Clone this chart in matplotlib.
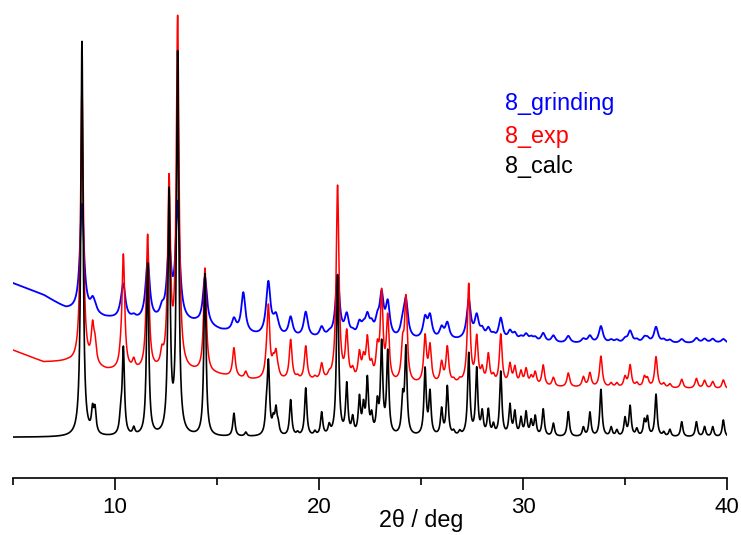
import numpy as np
import matplotlib.pyplot as plt
from matplotlib.ticker import MultipleLocator

plt.rcParams['font.family'] = ['Liberation Sans', 'DejaVu Sans']

# Peak positions (2theta, deg)
peak_pos = [8.38, 8.90, 9.02, 10.28, 10.41, 10.92, 11.60, 12.30, 12.65, 13.07,
            14.41, 15.83, 16.29, 16.41, 17.42, 17.52, 17.76, 17.89, 18.00, 18.61,
            18.95, 19.35, 19.80, 20.13, 20.50, 20.91, 21.36, 21.65, 21.98, 22.18,
            22.37, 22.58, 22.86, 23.07, 23.37, 24.10, 24.26, 25.20, 25.44, 26.01,
            26.29, 26.60, 26.90, 27.34, 27.73, 28.00, 28.30, 28.55, 28.91, 29.36,
            29.60, 29.90, 30.15, 30.40, 30.60, 30.99, 31.49, 32.22, 32.96, 33.28,
            33.82, 34.32, 34.60, 35.00, 35.25, 35.58, 35.95, 36.10, 36.52, 36.90,
            37.20, 37.78, 38.50, 38.90, 39.30, 39.82]

# Peak heights above background for each pattern
calc_h = [395, 22, 23, 18, 86, 7, 172, 0, 240, 380,
          162, 23, 0, 4, 20, 70, 13, 24, 9, 36,
          3, 48, 4, 23, 9, 160, 50, 16, 36, 26,
          54, 17, 29, 90, 82, 34, 86, 66, 42, 26,
          49, 4, 4, 82, 66, 22, 25, 10, 64, 30,
          23, 17, 23, 14, 19, 27, 13, 25, 9, 24,
          47, 9, 6, 18, 30, 7, 15, 18, 42, 4,
          7, 15, 15, 10, 10, 17]
exp_h = [275, 35, 19, 7, 114, 9, 135, 13, 185, 350,
         104, 29, 0, 7, 9, 70, 13, 23, 4, 40,
         3, 34, 3, 16, 4, 195, 46, 9, 26, 19,
         40, 13, 29, 86, 63, 33, 82, 46, 36, 20,
         36, 3, 3, 99, 45, 13, 29, 7, 50, 20,
         17, 13, 16, 8, 13, 21, 9, 14, 10, 14,
         31, 4, 4, 10, 22, 4, 10, 8, 31, 4,
         4, 9, 10, 8, 7, 9]
grind_h = [108, 11, 5, 4, 33, 3, 60, 9, 72, 116,
           48, 12, 40, 0, 4, 50, 4, 15, 3, 19,
           0, 25, 0, 10, 3, 62, 21, 4, 13, 8,
           19, 10, 14, 40, 33, 13, 37, 20, 22, 11,
           16, 0, 0, 39, 22, 8, 10, 4, 22, 9,
           7, 4, 7, 4, 4, 9, 7, 7, 4, 7,
           17, 3, 3, 4, 12, 3, 5, 4, 16, 3,
           3, 4, 5, 4, 4, 4]

# Backgrounds (2theta, level)
calc_bg_x = [5, 40]
calc_bg_y = [41, 41]
exp_bg_x = [5, 6.5, 7.7, 9.6, 11, 14, 15, 16.5, 20, 24, 27, 30, 35, 40]
exp_bg_y = [128, 116, 116, 107, 106, 105, 103, 98, 96, 93, 93, 91, 90, 89]
grind_bg_x = [5, 6.5, 7.6, 9.5, 11, 14, 15.2, 17, 20, 24, 28, 30, 35, 40]
grind_bg_y = [195, 183, 169, 160, 157, 154, 147, 142, 139, 137, 137, 135, 134, 135]

two_theta = np.arange(5, 40.001, 0.005)


def pattern(heights, hw, bg_x, bg_y):
    y = np.interp(two_theta, bg_x, bg_y)
    for p, h in zip(peak_pos, heights):
        y = y + h / (1 + ((two_theta - p) / hw) ** 2)
    return y


fig = plt.figure(figsize=(7.41, 5.35), dpi=100)
ax = fig.add_axes([13 / 741, (535 - 478.3) / 535, 714 / 741, 478.3 / 535])

ax.plot(two_theta, pattern(grind_h, 0.12, grind_bg_x, grind_bg_y), color='blue', lw=1.3)
ax.plot(two_theta, pattern(exp_h, 0.08, exp_bg_x, exp_bg_y), color='red', lw=1.1)
ax.plot(two_theta, pattern(calc_h, 0.065, calc_bg_x, calc_bg_y), color='black', lw=1.2)

ax.set_xlim(5, 40)
ax.set_ylim(0, 478.3)
for s in ['left', 'right', 'top']:
    ax.spines[s].set_visible(False)
ax.spines['bottom'].set_linewidth(1.2)
ax.set_yticks([])
ax.xaxis.set_major_locator(MultipleLocator(10))
ax.xaxis.set_minor_locator(MultipleLocator(5))
ax.tick_params(axis='x', which='major', length=8.4, width=1.2, pad=5, labelsize=16)
ax.tick_params(axis='x', which='minor', length=4.8, width=1.2)

fig.text(421 / 741, 1 - 526.7 / 535, '2θ / deg', fontsize=16.8, ha='center', va='baseline')

fig.text(505 / 741, 1 - 110 / 535, '8_grinding', color='blue', fontsize=16.8, va='baseline')
fig.text(505 / 741, 1 - 143.3 / 535, '8_exp', color='red', fontsize=16.8, va='baseline')
fig.text(505 / 741, 1 - 172.7 / 535, '8_calc', color='black', fontsize=16.8, va='baseline')

fig.savefig('out.png', dpi=100)
